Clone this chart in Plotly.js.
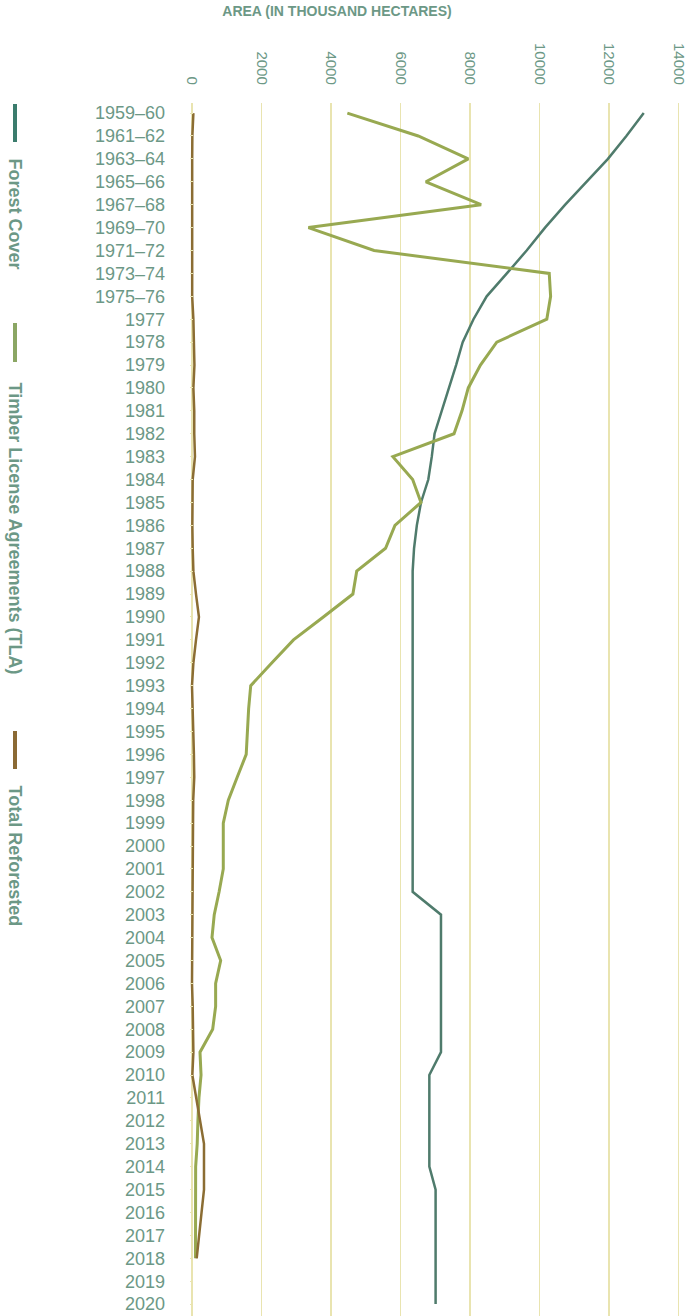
<!DOCTYPE html>
<html>
<head>
<meta charset="utf-8">
<script src="https://cdn.plot.ly/plotly-3.0.1.min.js"></script>
<style>html,body{margin:0;padding:0;background:#fff;}#chart{width:691px;height:1316px;}</style>
</head>
<body>
<div id="chart"></div>
<script>
const categories = ['1959–60','1961–62','1963–64','1965–66','1967–68','1969–70','1971–72','1973–74','1975–76',
  '1977','1978','1979','1980','1981','1982','1983','1984','1985','1986','1987','1988','1989','1990',
  '1991','1992','1993','1994','1995','1996','1997','1998','1999','2000','2001','2002','2003','2004',
  '2005','2006','2007','2008','2009','2010','2011','2012','2013','2014','2015','2016','2017','2018','2019','2020'];

const forestCover = [13000,12500,11970,11360,10740,10160,9630,9060,8480,8100,7790,7600,7400,7190,6980,6900,6800,6590,6470,6390,
  6350,6350,6350,6350,6350,6350,6350,6350,6350,6350,6350,6350,6350,6350,6350,
  7165,7165,7165,7165,7165,7165,7165,
  6830,6830,6830,6830,6830,
  7010,7010,7010,7010,7010,7010];

const timberLicense = [4470,6510,7950,6730,8320,3350,5240,10280,10320,10210,8770,8300,7950,7770,7540,5780,6350,6590,5840,5570,
  4740,4630,3780,2920,2300,1690,1630,1600,1560,1300,1045,900,900,900,780,640,575,825,680,680,595,230,260,200,170,150,105,
  100,100,100,100,null,null];

const totalReforested = [40,10,5,5,5,5,5,5,5,40,65,70,40,65,65,85,20,10,10,20,40,115,200,115,40,0,20,55,55,65,35,30,25,25,25,
  20,10,10,0,20,30,40,10,120,230,345,345,345,275,205,135,null,null];

const xTicks = [0,2000,4000,6000,8000,10000,12000,14000];

const seriesNames = ['Forest Cover','Timber License Agreements (TLA)','Total Reforested'];
const lineColors = ['#4f7b6c','#98a951','#8b6d33'];
const legendColors = ['#3b7c6d','#8ba664','#8b6a35'];

const W = 691, H = 1316;
const M = {l:190, r:3, t:103, b:0};
const PW = W - M.l - M.r, PH = H - M.t - M.b;
const px = p => (p - M.l) / PW;
const py = p => (H - M.b - p) / PH;

const txtColor = '#6c9886';
const font = 'Liberation Sans, Arial, sans-serif';

const data = [
  {x: forestCover, y: categories, name: seriesNames[0], type:'scatter', mode:'lines', line:{color:lineColors[0], width:2.5}},
  {x: timberLicense, y: categories, name: seriesNames[1], type:'scatter', mode:'lines', line:{color:lineColors[1], width:3}},
  {x: totalReforested, y: categories, name: seriesNames[2], type:'scatter', mode:'lines', line:{color:lineColors[2], width:2.5}}
];

// legend placement (rotated legend, drawn as shapes + annotations)
const legBars = [[104,142],[323,362],[731,769]];
const legText = [214,528,856];
const shapes = legBars.map((b,i)=>({type:'line', xref:'paper', yref:'paper', x0:px(15), x1:px(15), y0:py(b[0]), y1:py(b[1]),
  line:{color:legendColors[i], width:4}}));
const annotations = seriesNames.map((n,i)=>({text:'<b>'+n+'</b>', xref:'paper', yref:'paper', x:px(14.5), y:py(legText[i]),
  xanchor:'center', yanchor:'middle', textangle:90, showarrow:false, font:{family:font, size:18, color:txtColor}}));

const layout = {
  width: W, height: H,
  margin: M,
  paper_bgcolor:'#fff', plot_bgcolor:'#fff',
  showlegend:false,
  title:{text:'<b>AREA (IN THOUSAND HECTARES)</b>', x:337/W, xanchor:'center', yref:'container', y:1-11/H, yanchor:'middle',
    font:{family:font, size:14, color:txtColor}},
  xaxis:{side:'top', range:[-2/(PW/(14273.4+57.6))*1, 14273.4], tickvals:xTicks, ticktext:xTicks.map(String),
    tickangle:90, tickfont:{family:font, size:15, color:txtColor}, showgrid:true, gridcolor:'#e9e4b0', gridwidth:1.5,
    zeroline:false, showline:false, ticks:'', ticklabelstandoff:15, fixedrange:true},
  yaxis:{type:'category', categoryarray:categories, categoryorder:'array', range:[52.52,-0.44], showgrid:false, zeroline:false,
    showline:false, ticks:'inside', ticklen:3, tickcolor:'#e9e4b0', tickfont:{family:font, size:18, color:txtColor},
    ticklabelstandoff:24, fixedrange:true},
  shapes: shapes,
  annotations: annotations
};
layout.xaxis.range[0] = -57.6;

Plotly.newPlot('chart', data, layout, {displayModeBar:false, staticPlot:true});
</script>
</body>
</html>
